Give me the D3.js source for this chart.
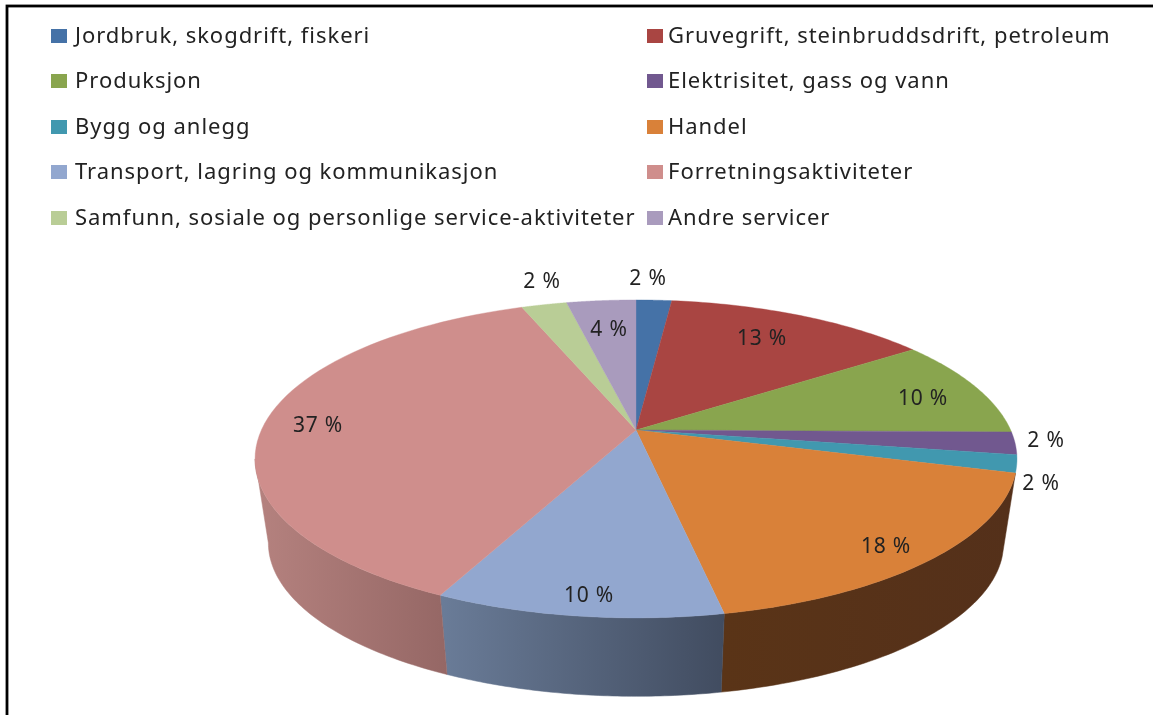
<!DOCTYPE html>
<html><head><meta charset="utf-8">
<script src="https://cdn.jsdelivr.net/npm/d3@7/dist/d3.min.js"></script>
<style>html,body{margin:0;padding:0;background:#fff;overflow:hidden}svg{display:block;filter:blur(.45px)}</style>
</head><body><svg id="c" width="1153" height="715"></svg>
<script>
const categories = ["Jordbruk, skogdrift, fiskeri","Gruvegrift, steinbruddsdrift, petroleum","Produksjon","Elektrisitet, gass og vann","Bygg og anlegg","Handel","Transport, lagring og kommunikasjon","Forretningsaktiviteter","Samfunn, sosiale og personlige service-aktiviteter","Andre servicer"];
const values = [1.8,13.4,10,2.3,1.8,17.6,10.3,37,2.3,3.5];
const valueLabels = ["2 %","13 %","10 %","2 %","2 %","18 %","10 %","37 %","2 %","4 %"];
const colors = ["#4572a7","#a94542","#89a54e","#71588f","#4198af","#d98139","#92a7cf","#cf8e8c","#b9cd96","#a99bbd"];
const wallLeft = {5:"#5a3417",6:"#6a7c98",7:"#b5827f"};
const wallRight = {5:"#54301a",6:"#414c60",7:"#956765"};

const svg = d3.select("#c");
const font = "'Noto Sans',sans-serif";
svg.append("rect").attr("x",7).attr("y",6).attr("width",1160).attr("height",730).attr("fill","#fff").attr("stroke","#000").attr("stroke-width",2.8);

// perspective projection of the pie's unit circle
const k = 0.182;
const proj = (cx,cy,A,B) => (a,r=1) => { const u=r*Math.sin(a), v=-r*Math.cos(a), w=1-k*v; return [cx+A*u/w, cy+B*v/w]; };
const topFace = proj(636,430,374.6,153.7);
const botFace = proj(636,515,361.5,148.3);
const arcs = d3.pie().value(d=>d).sort(null)(values);
const rad = d=>d*Math.PI/180;
const wallFrom = rad(104), wallTo = rad(259.5);
const steps = (a,b) => d3.range(0,61).map(i=>a+(b-a)*i/60);

const defs = svg.append("defs");
const gWall = svg.append("g"), gTop = svg.append("g");
arcs.forEach((d,i)=>{
  const a=Math.max(d.startAngle,wallFrom), b=Math.min(d.endAngle,wallTo);
  if(b<=a || !(i in wallLeft)) return;
  const s=steps(a,b), t=s.map(x=>topFace(x)), l=s.slice().reverse().map(x=>botFace(x));
  const xs=t.concat(l).map(p=>p[0]);
  const g=defs.append("linearGradient").attr("id","w"+i).attr("gradientUnits","userSpaceOnUse")
    .attr("x1",d3.min(xs)).attr("x2",d3.max(xs)).attr("y1",0).attr("y2",0);
  g.append("stop").attr("offset",0).attr("stop-color",wallLeft[i]);
  g.append("stop").attr("offset",1).attr("stop-color",wallRight[i]);
  gWall.append("path").attr("d",d3.line()(t.concat(l))+"Z").attr("fill",`url(#w${i})`).attr("stroke",`url(#w${i})`).attr("stroke-width",.5);
});
arcs.forEach((d,i)=>{
  const pts=[topFace(0,0)].concat(steps(d.startAngle,d.endAngle).map(x=>topFace(x)));
  gTop.append("path").attr("d",d3.line()(pts)+"Z").attr("fill",colors[i]).attr("stroke",colors[i]).attr("stroke-width",.4);
});

// legend
const swatchX=[51,647], textX=[75,668], rowY=[36,81,127,172,218];
categories.forEach((c,i)=>{
  const col=i%2, y=rowY[Math.floor(i/2)];
  svg.append("rect").attr("x",swatchX[col]).attr("y",y-7).attr("width",16).attr("height",14).attr("fill",colors[i]);
  svg.append("text").attr("x",textX[col]).attr("y",y+7).attr("font-family",font).attr("font-size",22).attr("letter-spacing",.96).attr("fill","#222").text(c);
});

// data labels
const labelPos=[[648,278],[762,338],[923,398],[1046,440],[1041,483],[886,546],[589,595],[318,425],[542,281],[609,329]];
valueLabels.forEach((t,i)=>{
  svg.append("text").attr("x",labelPos[i][0]).attr("y",labelPos[i][1]+7).attr("text-anchor","middle").attr("font-family",font).attr("font-size",21).attr("letter-spacing",.8).attr("fill","#222").text(t);
});
</script></body></html>
